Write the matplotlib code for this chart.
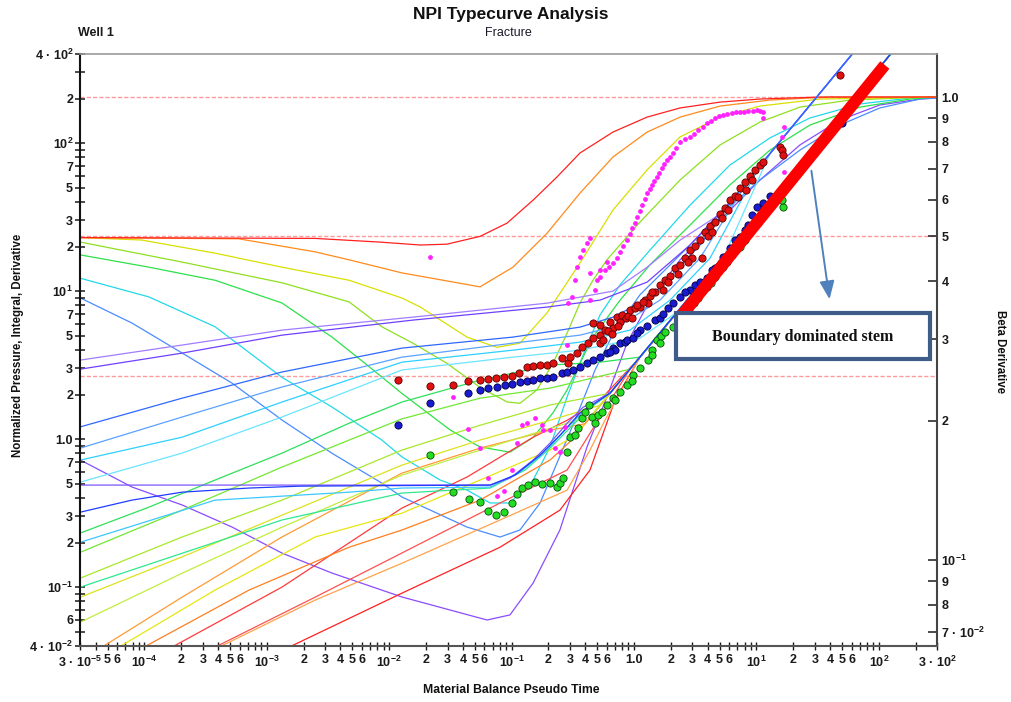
import matplotlib
matplotlib.use("Agg")
import matplotlib.pyplot as plt
from matplotlib.patches import Rectangle
from matplotlib.ticker import FixedLocator, FixedFormatter, NullLocator

plt.rcParams['font.family'] = ['Liberation Sans', 'DejaVu Sans']
plt.rcParams['mathtext.fontset'] = 'custom'
plt.rcParams['mathtext.rm'] = 'Liberation Sans:bold'
plt.rcParams['mathtext.bf'] = 'Liberation Sans:bold'
plt.rcParams['mathtext.it'] = 'Liberation Sans:bold'
plt.rcParams['mathtext.default'] = 'rm'

# ---------------- beta-derivative typecurves (right axis) ----------------
beta_red_t = [3e-5, 2.48e-3, 8.4e-3, 0.0179, 0.0296, 0.0552, 0.0917, 0.150, 0.235, 0.362, 0.673, 1.28, 2.38, 5.05, 10.7, 33.1, 300]
beta_red = [0.497, 0.495, 0.486, 0.479, 0.481, 0.5, 0.534, 0.599, 0.672, 0.757, 0.840, 0.905, 0.947, 0.975, 0.990, 1.0, 1.0]

beta_orange_t = [3e-5, 5.9e-4, 2.48e-3, 4.7e-3, 0.0127, 0.0552, 0.1026, 0.195, 0.362, 0.673, 1.28, 2.38, 5.05, 12.9, 39.9, 300]
beta_orange = [0.497, 0.494, 0.463, 0.445, 0.417, 0.389, 0.429, 0.508, 0.620, 0.742, 0.840, 0.905, 0.956, 0.985, 1.0, 1.0]

beta_yellow_t = [3e-5, 9.5e-5, 3.78e-4, 1.33e-3, 4.7e-3, 0.0127, 0.0179, 0.0432, 0.076, 0.117, 0.195, 0.362, 0.673, 1.28, 2.38, 5.05, 10.7, 33.1, 300]
beta_yellow = [0.497, 0.491, 0.460, 0.429, 0.402, 0.368, 0.352, 0.303, 0.288, 0.294, 0.342, 0.438, 0.570, 0.696, 0.820, 0.905, 0.956, 0.990, 1.0]

beta_lime_t = [3e-5, 2.03e-4, 1.33e-3, 4.7e-3, 8.7e-3, 0.0156, 0.0296, 0.0552, 0.0917, 0.117, 0.161, 0.218, 0.284, 0.362, 0.462, 0.601, 1.12, 2.38, 5.05, 10.7, 22.7, 58.2, 149, 300]
beta_lime = [0.486, 0.440, 0.397, 0.361, 0.319, 0.294, 0.266, 0.236, 0.2195, 0.218, 0.233, 0.266, 0.309, 0.359, 0.402, 0.445, 0.537, 0.662, 0.788, 0.883, 0.951, 0.985, 0.995, 1.0]

beta_green_t = [3e-5, 1.09e-4, 3.78e-4, 1.33e-3, 3.41e-3, 6.34e-3, 0.0127, 0.0314, 0.0552, 0.097, 0.150, 0.218, 0.284, 0.362, 0.462, 0.769, 1.35, 2.87, 6.08, 12.9, 27.4, 70.2, 180, 300]
beta_green = [0.456, 0.429, 0.402, 0.359, 0.303, 0.266, 0.229, 0.191, 0.1754, 0.171, 0.184, 0.208, 0.233, 0.266, 0.303, 0.364, 0.434, 0.529, 0.646, 0.768, 0.870, 0.951, 0.990, 1.0]

beta_cyan_t = [3e-5, 1.09e-4, 3.78e-4, 1.33e-3, 3.41e-3, 8.7e-3, 0.0127, 0.026, 0.0432, 0.0667, 0.097, 0.150, 0.206, 0.284, 0.398, 0.527, 0.769, 1.35, 2.87, 6.08, 12.9, 27.4, 70.2, 180, 300]
beta_cyan = [0.406, 0.370, 0.319, 0.248, 0.214, 0.1816, 0.167, 0.1489, 0.1416, 0.1328, 0.1328, 0.1489, 0.1754, 0.225, 0.284, 0.338, 0.393, 0.467, 0.584, 0.713, 0.816, 0.901, 0.966, 0.995, 1.0]

beta_azure_t = [3e-5, 7.9e-5, 2.03e-4, 5.2e-4, 1.33e-3, 3.41e-3, 8.7e-3, 0.0127, 0.0432, 0.0804, 0.117, 0.171, 0.235, 0.330, 0.480, 0.699, 1.12, 2.38, 5.05, 10.7, 22.7, 48.2, 102, 217, 300]
beta_azure = [0.368, 0.325, 0.280, 0.241, 0.2006, 0.170, 0.1466, 0.1368, 0.1178, 0.1121, 0.1161, 0.1328, 0.162, 0.2006, 0.257, 0.314, 0.374, 0.456, 0.556, 0.662, 0.768, 0.870, 0.947, 0.990, 0.995]

beta_violet_t = [3e-5, 7.9e-5, 2.03e-4, 5.2e-4, 1.33e-3, 3.41e-3, 8.7e-3, 0.0127, 0.063, 0.097, 0.150, 0.248, 0.413, 0.601, 0.877, 1.35, 2.38, 5.05, 10.7, 22.7, 48.2, 102, 217, 300]
beta_violet = [0.1644, 0.1438, 0.1315, 0.1178, 0.1035, 0.0937, 0.0861, 0.0832, 0.0742, 0.0761, 0.0892, 0.1161, 0.1754, 0.225, 0.294, 0.364, 0.445, 0.542, 0.662, 0.788, 0.892, 0.961, 0.990, 0.995]

beta_guides = [1.0, 0.5, 0.25]

# ---------------- normalized pressure / integral typecurves (left axis) ----------------
# upper family, joining the upper unit-slope stem
np_u1_t = [3e-5, 2.03e-4, 1.33e-3, 0.0156, 0.195, 0.673, 1.28, 2.38, 5.05, 70]
np_u1 = [3.42, 4.32, 5.45, 6.67, 8.29, 10.0, 14.5, 22.1, 33.1, 461]
np_u2_t = [3e-5, 2.03e-4, 1.33e-3, 0.0156, 0.195, 0.527, 1.28, 2.87, 6.08, 70]
np_u2 = [2.97, 3.81, 5.04, 6.37, 7.80, 8.69, 11.5, 20.5, 40.0, 461]
np_u3_t = [3e-5, 2.03e-4, 1.33e-3, 0.0127, 0.1026, 0.362, 0.673, 1.35, 3.46, 7.35, 70]
np_u3 = [1.21, 1.89, 2.84, 4.12, 4.89, 5.71, 6.67, 8.97, 20.5, 48.4, 461]
np_u4_t = [3e-5, 2.03e-4, 1.33e-3, 0.0127, 0.1026, 0.362, 0.769, 1.63, 3.46, 8.87, 70]
np_u4 = [0.869, 1.41, 2.25, 3.58, 4.45, 5.04, 5.89, 8.69, 16.7, 58.4, 461]
np_u5_t = [3e-5, 2.03e-4, 1.33e-3, 0.0127, 0.1026, 0.362, 0.927, 1.97, 4.18, 10.7, 70]
np_u5 = [0.722, 1.03, 1.78, 3.31, 3.99, 4.52, 5.45, 8.69, 16.7, 70.5, 461]
np_u6_t = [3e-5, 2.03e-4, 1.33e-3, 0.0127, 0.1026, 0.362, 1.12, 2.38, 5.05, 12.9, 70]
np_u6 = [0.512, 0.804, 1.41, 2.93, 3.58, 3.99, 4.81, 7.44, 15.0, 85.0, 461]

# family that flattens near 0.49 before turning onto the lower stem
np_f1_t = [3e-5, 0.0667, 0.097, 0.150, 0.206, 0.284, 0.383, 0.636, 150]
np_f1 = [0.489, 0.489, 0.545, 0.722, 0.94, 1.28, 1.64, 2.04, 480]
np_f2_t = [3e-5, 7.9e-5, 2.03e-4, 7.16e-4, 1.87e-3, 0.0667, 0.1066, 0.171, 0.248, 0.362, 0.636, 150]
np_f2 = [0.321, 0.387, 0.438, 0.467, 0.481, 0.489, 0.571, 0.780, 1.06, 1.50, 2.04, 480]
np_f3_t = [3e-5, 3.78e-4, 4.7e-3, 0.0127, 0.0667, 0.117, 0.187, 0.273, 0.398, 0.636, 150]
np_f3 = [0.201, 0.387, 0.438, 0.467, 0.474, 0.598, 0.817, 1.15, 1.57, 2.04, 480]
np_f4_t = [3e-5, 1.33e-3, 0.0127, 0.0667, 0.129, 0.206, 0.300, 0.437, 0.636, 150]
np_f4 = [0.100, 0.284, 0.432, 0.467, 0.618, 0.869, 1.19, 1.62, 2.04, 480]

# lower family, joining the lower unit-slope stem
np_l1_t = [3e-5, 1.09e-4, 3.78e-4, 1.33e-3, 4.7e-3, 0.0127, 0.0552, 0.206, 0.527, 1.12, 150]
np_l1 = [0.232, 0.347, 0.529, 0.804, 1.28, 1.78, 2.50, 3.16, 3.31, 3.58, 480]
np_l2_t = [3e-5, 2.03e-4, 1.33e-3, 0.0127, 0.0552, 0.206, 0.927, 150]
np_l2 = [0.172, 0.331, 0.647, 1.37, 1.89, 2.21, 2.97, 480]
np_l3_t = [3e-5, 2.03e-4, 1.33e-3, 0.0127, 0.0552, 0.206, 0.636, 150]
np_l3 = [0.115, 0.218, 0.387, 0.843, 1.24, 1.70, 2.04, 480]
np_l4_t = [3e-5, 2.03e-4, 1.33e-3, 0.0127, 0.0552, 0.206, 0.527, 150]
np_l4 = [0.0855, 0.160, 0.306, 0.667, 0.985, 1.34, 1.69, 480]
np_l5_t = [3e-5, 2.03e-4, 1.33e-3, 0.0127, 0.0552, 0.248, 0.437, 150]
np_l5 = [0.058, 0.124, 0.254, 0.571, 0.843, 1.24, 1.41, 480]
np_l6_t = [4.5e-5, 2.03e-4, 1.33e-3, 0.0127, 0.0552, 0.206, 0.398, 150]
np_l6 = [0.0393, 0.0855, 0.218, 0.589, 0.869, 1.15, 1.27, 480]
np_l7_t = [6.2e-5, 3.78e-4, 2.48e-3, 0.0127, 0.0552, 0.206, 0.330, 150]
np_l7 = [0.0393, 0.0955, 0.218, 0.316, 0.529, 0.843, 1.05, 480]
np_l8_t = [9.9e-5, 7.16e-4, 4.7e-3, 0.0127, 0.0552, 0.206, 0.300, 150]
np_l8 = [0.0393, 0.0955, 0.186, 0.243, 0.387, 0.722, 0.96, 480]
np_l9_t = [1.68e-4, 1.33e-3, 0.0127, 0.0432, 0.150, 0.284, 0.527, 1.12, 150]
np_l9 = [0.0393, 0.100, 0.342, 0.554, 1.03, 1.34, 1.83, 3.58, 480]
np_l10_t = [3.78e-4, 2.48e-3, 0.0127, 0.0804, 0.284, 0.927, 150]
np_l10 = [0.0393, 0.0855, 0.170, 0.370, 0.618, 2.97, 480]
np_l11_t = [4.07e-4, 2.48e-3, 0.0127, 0.0804, 0.284, 0.437, 0.579, 1.12, 150]
np_l11 = [0.0393, 0.0817, 0.145, 0.284, 0.452, 0.843, 1.34, 3.58, 480]
np_l12_t = [1.52e-3, 0.0127, 0.0804, 0.248, 0.437, 0.699, 1.12, 150]
np_l12 = [0.0393, 0.091, 0.186, 0.331, 0.618, 1.83, 3.58, 480]

# ---------------- well data ----------------
red_t = [0.0118, 0.0216, 0.0332, 0.0441, 0.0552, 0.0641, 0.0746, 0.0867, 0.1007, 0.115, 0.1336, 0.150, 0.171, 0.195, 0.218,
         0.258, 0.289, 0.300, 0.342, 0.376, 0.421, 0.462, 0.527, 0.527, 0.462, 0.527, 0.579, 0.637, 0.673, 0.726, 0.769,
         0.798, 0.861, 0.893, 0.927, 1.02, 1.12, 1.23, 1.30, 1.35, 1.49, 1.63, 1.73, 1.79, 1.97, 2.16, 2.29, 2.38, 2.61,
         2.87, 2.98, 3.15, 3.46, 3.59, 3.80, 4.02, 4.18, 4.59, 5.05, 5.24, 5.54, 6.08, 6.68, 7.08, 7.35, 8.07, 8.87, 9.20,
         9.75, 10.7, 11.3, 15.6, 16.2, 16.5, 48.2,
         0.558, 0.614, 0.661, 0.740, 0.963, 1.06, 1.19, 1.40, 1.90, 2.76, 4.34, 5.86, 8.22]
red_val = [2.50, 2.28, 2.32, 2.46, 2.50, 2.54, 2.58, 2.62, 2.67, 2.79, 3.07, 3.11, 3.16, 3.16, 3.26,
           3.53, 3.26, 3.58, 3.81, 4.19, 4.45, 4.81, 5.04, 4.45, 6.08, 5.89, 5.45, 6.18, 5.62, 6.67, 6.18,
           6.88, 6.57, 6.78, 7.44, 7.67, 7.80, 8.69, 8.29, 9.25, 9.84, 11.0, 10.2, 11.9, 12.6, 14.3, 13.0, 15.0, 16.7,
           18.9, 16.7, 20.1, 22.1, 16.7, 25.0, 23.5, 27.5, 29.3, 33.1, 31.1, 36.4, 41.2, 43.8, 43.2, 49.7, 54.5, 59.8, 56.2,
           65.7, 71.0, 74.5, 94.0, 89.7, 83.0, 288,
           4.67, 5.37, 5.12, 5.80, 6.57, 8.04, 8.43, 9.84, 11.5, 15.7, 25.0, 35.3, 48.1]

blue_t = [0.0118, 0.0216, 0.0441, 0.0552, 0.0641, 0.076, 0.0883, 0.1007, 0.117, 0.1336, 0.150, 0.171, 0.195, 0.218, 0.258,
          0.284, 0.318, 0.362, 0.413, 0.462, 0.527, 0.601, 0.673, 0.699, 0.769, 0.844, 0.877, 0.981, 1.12, 1.28, 1.49,
          1.63, 1.73, 2.08, 2.38, 2.87, 3.15, 3.46, 3.95, 4.59, 5.33, 6.08, 6.68, 7.35, 8.53, 9.20, 10.1, 11.3, 12.9, 50.0,
          0.637, 1.06, 1.90, 2.61, 4.34, 8.07]
blue_val = [1.24, 1.75, 2.05, 2.14, 2.21, 2.25, 2.32, 2.35, 2.43, 2.46, 2.50, 2.58, 2.58, 2.62, 2.79,
            2.84, 2.93, 3.07, 3.26, 3.42, 3.58, 3.81, 4.12, 3.99, 4.45, 4.52, 4.67, 4.81, 5.45, 5.80, 6.37,
            6.57, 6.99, 8.29, 9.10, 10.2, 11.0, 11.5, 12.2, 14.3, 17.0, 19.5, 22.1, 23.2, 27.9, 32.6, 36.9, 39.3, 43.8, 136,
            3.87, 5.20, 7.67, 9.84, 13.9, 25.8]

green_t = [0.0216, 0.0332, 0.0449, 0.0552, 0.0641, 0.0746, 0.0867, 0.1007, 0.1107, 0.1216, 0.136, 0.155, 0.177, 0.206,
           0.235, 0.248, 0.263, 0.284, 0.300, 0.330, 0.349, 0.376, 0.398, 0.429, 0.454, 0.480, 0.508, 0.548, 0.601, 0.673,
           0.769, 0.877, 0.981, 1.12, 1.30, 1.40, 1.54, 1.65, 1.79, 2.08, 2.47, 2.87, 3.33, 3.95, 4.59, 5.33, 6.32, 7.35,
           8.71, 10.1, 11.3, 16.5, 16.2,
           0.699, 0.963, 1.40, 1.63, 2.29, 3.09, 4.26, 5.75, 8.07, 9.54]
green_val = [0.780, 0.438, 0.393, 0.375, 0.326, 0.306, 0.321, 0.370, 0.425, 0.467, 0.489, 0.512, 0.496, 0.504,
             0.474, 0.504, 0.545, 0.817, 1.03, 1.06, 1.19, 1.39, 1.52, 1.70, 1.41, 1.28, 1.45, 1.52, 1.70, 1.89,
             2.08, 2.32, 2.71, 3.02, 3.42, 3.99, 4.67, 4.95, 5.28, 5.71, 6.88, 7.80, 8.97, 10.6, 12.4, 14.5, 17.5, 19.8,
             24.6, 30.2, 35.3, 36.9, 41.2,
             1.83, 2.46, 3.69, 4.45, 6.18, 8.29, 11.3, 15.7, 22.1, 27.5]

magenta_t = [0.0216, 0.0332, 0.0441, 0.0552, 0.0641, 0.076, 0.0867, 0.1007, 0.1107, 0.1216, 0.1336, 0.155, 0.177, 0.181,
             0.206, 0.226, 0.248, 0.273, 0.284, 0.289, 0.311, 0.330, 0.342, 0.362, 0.383, 0.413, 0.437, 0.437, 0.499,
             0.527, 0.601, 0.437, 0.480, 0.527, 0.579, 0.62, 0.673, 0.72, 0.769, 0.82, 0.877, 0.92, 0.963, 1.01, 1.06,
             1.11, 1.16, 1.22, 1.28, 1.34, 1.40, 1.47, 1.54, 1.61, 1.69, 1.77, 1.86, 1.97, 2.08, 2.22, 2.38, 2.62, 2.87,
             3.10, 3.33, 3.64, 3.95, 4.26, 4.59, 4.95, 5.33, 5.80, 6.32, 6.80, 7.35, 7.90, 8.53, 9.30, 10.1, 10.7, 11.3,
             11.3, 16.8, 16.2, 16.8]
magenta_val = [17.0, 1.92, 1.17, 0.869, 0.545, 0.412, 0.445, 0.618, 0.94, 1.24, 1.28, 1.39, 1.24, 1.15,
               1.15, 0.869, 0.817, 1.21, 4.32, 8.29, 9.10, 11.9, 14.5, 17.0, 18.9, 21.1, 22.8, 13.2, 11.9,
               13.9, 15.7, 8.69, 10.2, 12.4, 13.9, 14.6, 15.5, 16.8, 18.3, 20.2, 22.1, 24.3, 26.6, 29.0, 31.6,
               34.8, 38.1, 41.9, 45.9, 49.0, 52.0, 55.3, 58.9, 62.6, 67.7, 72.0, 76.8, 81.0, 85.6, 92.6, 102, 106, 110,
               116, 122, 129, 136, 142, 148, 152, 155, 158, 160, 161, 162, 163, 164, 165, 167, 166, 162,
               148, 128, 110, 63.7]

# hand-drawn boundary-dominated stem
stem_t = [2.4, 112]
stem_val = [6.7, 337]

# ---------------- axis tick labels ----------------
x_labels = {3e-5: r'3 · $10^{-5}$', 5e-5: '5', 6e-5: '6', 1e-4: r'$10^{-4}$', 1e-3: r'$10^{-3}$',
            1e-2: r'$10^{-2}$', 1e-1: r'$10^{-1}$', 1.0: '1.0', 10.0: r'$10^{1}$', 100.0: r'$10^{2}$',
            300.0: r'3 · $10^{2}$'}
y_labels = {0.04: r'4 · $10^{-2}$', 0.06: '6', 0.1: r'$10^{-1}$', 0.2: '2', 0.3: '3', 0.5: '5', 0.7: '7',
            1.0: '1.0', 2.0: '2', 3.0: '3', 5.0: '5', 7.0: '7', 10.0: r'$10^{1}$', 20.0: '2', 30.0: '3',
            50.0: '5', 70.0: '7', 100.0: r'$10^{2}$', 200.0: '2', 300.0: '', 400.0: r'4 · $10^{2}$'}
beta_ticks = [0.07, 0.08, 0.09, 0.1, 0.2, 0.3, 0.4, 0.5, 0.6, 0.7, 0.8, 0.9, 1.0]
beta_tick_labels = [r'7 · $10^{-2}$', '8', '9', r'$10^{-1}$', '2', '3', '4', '5', '6', '7', '8', '9', '1.0']

# ---------------- figure ----------------
W, H = 1011, 702
fig = plt.figure(figsize=(W / 100, H / 100), dpi=100, facecolor='white')
ax = fig.add_axes([80.4 / W, 56 / H, 856.8 / W, 592 / H])
ax2 = ax.twinx()
ax.set_zorder(ax2.get_zorder() + 1)
ax.patch.set_visible(False)

ax.set_xscale('log')
ax.set_yscale('log')
ax.set_xlim(3e-5, 3e2)
ax.set_ylim(4e-2, 4e2)
ax2.set_yscale('log')
ax2.set_ylim(0.0652, 1.2385)

# beta typecurves and guide lines
for yv in beta_guides:
    ax2.axhline(yv, color='#ff9a9a', lw=1.0, ls=(0, (3, 1.5)), zorder=1)
beta_curves = [
    (beta_violet_t, beta_violet, '#8a4cff'),
    (beta_azure_t, beta_azure, '#4a8cff'),
    (beta_cyan_t, beta_cyan, '#22d8e8'),
    (beta_green_t, beta_green, '#2ee04a'),
    (beta_lime_t, beta_lime, '#8ee020'),
    (beta_yellow_t, beta_yellow, '#d8e000'),
    (beta_orange_t, beta_orange, '#ff8a1c'),
    (beta_red_t, beta_red, '#ff2020'),
]
for t, v, c in beta_curves:
    ax2.plot(t, v, color=c, lw=0.9, zorder=2)

# pressure / integral typecurves
np_curves = [
    (np_l12_t, np_l12, '#ff2020'), (np_l11_t, np_l11, '#ffa24a'), (np_l10_t, np_l10, '#ff5050'),
    (np_l9_t, np_l9, '#ff3a3a'), (np_l8_t, np_l8, '#ff7f1f'), (np_l7_t, np_l7, '#e6e610'),
    (np_l6_t, np_l6, '#ff9a33'), (np_l5_t, np_l5, '#c2ee3c'), (np_l4_t, np_l4, '#dde21e'),
    (np_l3_t, np_l3, '#a8e82a'), (np_l2_t, np_l2, '#72e832'), (np_l1_t, np_l1, '#2ee05a'),
    (np_f4_t, np_f4, '#2ee890'), (np_f3_t, np_f3, '#3cc8ff'), (np_f1_t, np_f1, '#7c55ff'),
    (np_f2_t, np_f2, '#1f3cff'),
    (np_u6_t, np_u6, '#6ae4ff'), (np_u5_t, np_u5, '#2ed0ff'), (np_u4_t, np_u4, '#5aa2ff'),
    (np_u1_t, np_u1, '#a27cff'), (np_u2_t, np_u2, '#7040ff'), (np_u3_t, np_u3, '#2f68ff'),
]
for t, v, c in np_curves:
    ax.plot(t, v, color=c, lw=0.9, zorder=2)

# well data
ax.scatter(magenta_t, magenta_val, s=12, color='#ff22ff', lw=0, zorder=4)
ax.scatter(green_t, green_val, s=27, facecolor='#22dd22', edgecolor='#0b4a0b', lw=0.6, zorder=5)
ax.scatter(red_t, red_val, s=27, facecolor='#e01010', edgecolor='#5a0000', lw=0.6, zorder=5)
ax.scatter(blue_t, blue_val, s=27, facecolor='#1a1ad0', edgecolor='#000040', lw=0.6, zorder=6)

ax.plot(stem_t, stem_val, color='#ff0000', lw=8.5, solid_capstyle='butt', zorder=7)

# annotation box with arrow
ax.add_patch(Rectangle((0.6951, 0.4848), 0.2965, 0.0777, transform=ax.transAxes,
                       facecolor='white', edgecolor='#3e5c87', lw=3, zorder=8, clip_on=False))
ax.text(0.8434, 0.5220, 'Boundary dominated stem', transform=ax.transAxes, ha='center', va='center',
        family='Liberation Serif', weight='bold', fontsize=11.5, color='#111111', zorder=9)
ax.annotate('', xy=(0.8748, 0.5811), xytext=(0.8527, 0.8074), xycoords='axes fraction',
            arrowprops=dict(arrowstyle='-|>,head_length=1.1,head_width=0.45', color='#4f81bd', lw=1.4),
            zorder=9)

# ticks
xt, xl = [], []
for d in range(-5, 3):
    for m in range(1, 10):
        v = round(m * 10.0 ** d, 12)
        if 3e-5 - 1e-12 <= v <= 3e2 + 1e-9:
            xt.append(v)
            key = min(x_labels, key=lambda k: abs(k - v) / k)
            if abs(key - v) / v < 1e-6:
                xl.append(x_labels[key])
            elif d > -5 and d < 2 and m in (2, 3, 4, 5, 6):
                xl.append(str(m))
            else:
                xl.append('')
ax.xaxis.set_major_locator(FixedLocator(xt))
ax.xaxis.set_major_formatter(FixedFormatter(xl))
ax.xaxis.set_minor_locator(NullLocator())

yt, yl = [], []
for d in range(-2, 2):
    for m in range(1, 10):
        v = round(m * 10.0 ** d, 12)
        if v >= 0.04 - 1e-12:
            yt.append(v)
yt += [100.0, 200.0, 300.0, 400.0]
for v in yt:
    key = min(y_labels, key=lambda k: abs(k - v) / k)
    yl.append(y_labels[key] if abs(key - v) / v < 1e-6 else '')
ax.yaxis.set_major_locator(FixedLocator(yt))
ax.yaxis.set_major_formatter(FixedFormatter(yl))
ax.yaxis.set_minor_locator(NullLocator())

ax2.yaxis.set_major_locator(FixedLocator(beta_ticks))
ax2.yaxis.set_major_formatter(FixedFormatter(beta_tick_labels))
ax2.yaxis.set_minor_locator(NullLocator())

ax.tick_params(axis='y', direction='inout', length=6.5, width=1.1, pad=2, labelsize=9, colors='#1a1a1a')
ax.tick_params(axis='x', direction='inout', length=6, width=1.0, pad=3, labelsize=9, colors='#1a1a1a')
ax2.tick_params(axis='y', direction='in', length=6.5, width=1.1, pad=3, labelsize=9, colors='#1a1a1a')
for lab in ax.get_xticklabels() + ax.get_yticklabels() + ax2.get_yticklabels():
    lab.set_fontweight('bold')

for s in ax2.spines.values():
    s.set_visible(False)
ax.spines['left'].set_color('#111111')
ax.spines['left'].set_linewidth(1.5)
ax.spines['bottom'].set_color('#555555')
ax.spines['bottom'].set_linewidth(1.5)
ax.spines['top'].set_color('#9a9a9a')
ax.spines['top'].set_linewidth(1.2)
ax.spines['right'].set_color('#444444')
ax.spines['right'].set_linewidth(1.5)

# titles and axis labels
fig.text(511 / W, 1 - 15 / H, 'NPI Typecurve Analysis', ha='center', va='center', fontsize=12.5,
         weight='bold', color='#111111')
fig.text(508 / W, 1 - 33 / H, 'Fracture', ha='center', va='center', fontsize=9, color='#1a1a2a')
fig.text(78 / W, 1 - 33 / H, 'Well 1', ha='left', va='center', fontsize=9, weight='bold', color='#1a1a1a')
fig.text(18 / W, 1 - 345 / H, 'Normalized Pressure, Integral, Derivative', rotation=90, ha='center',
         va='center', fontsize=8.3, weight='bold', color='#111111')
fig.text(511 / W, 1 - 690 / H, 'Material Balance Pseudo Time', ha='center', va='center', fontsize=8.8,
         weight='bold', color='#111111')
fig.text(1000 / W, 1 - 351 / H, 'Beta Derivative', rotation=270, ha='center', va='center', fontsize=8.3,
         weight='bold', color='#111111')

fig.savefig('out.png', dpi=100, facecolor='white')
